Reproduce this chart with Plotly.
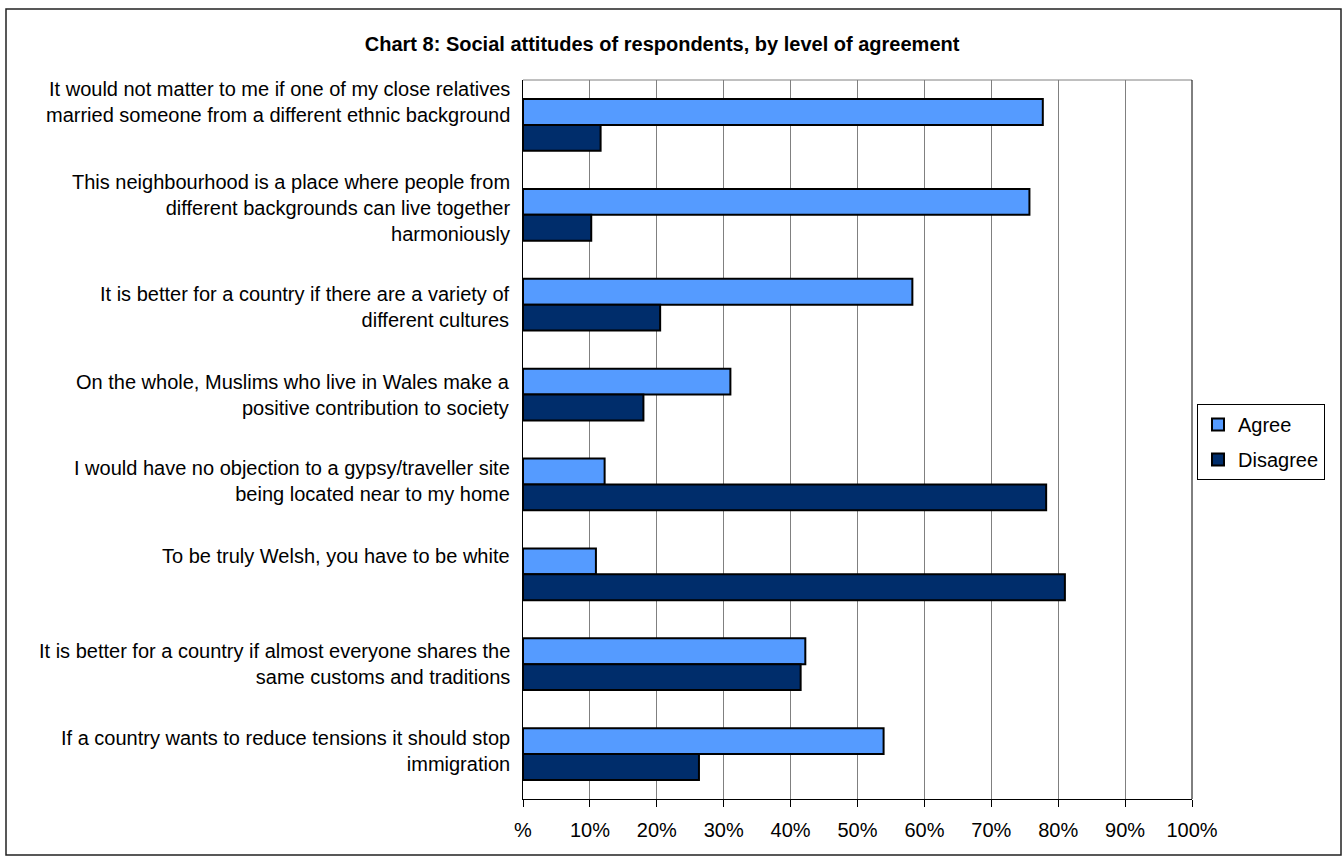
import plotly.graph_objects as go

# ---- data ----
CATEGORIES = [
    "It would not matter to me if one of my close relatives<br>married someone from a different ethnic background",
    "This neighbourhood is a place where people from<br>different backgrounds can live together<br>harmoniously",
    "It is better for a country if there are a variety of<br>different cultures",
    "On the whole, Muslims who live in Wales make a<br>positive contribution to society",
    "I would have no objection to a gypsy/traveller site<br>being located near to my home",
    "To be truly Welsh, you have to be white",
    "It is better for a country if almost everyone shares the<br>same customs and traditions",
    "If a country wants to reduce tensions it should stop<br>immigration",
]
AGREE = [77.7, 75.7, 58.2, 31.0, 12.2, 10.9, 42.2, 53.9]
DISAGREE = [11.6, 10.2, 20.5, 18.0, 78.2, 81.0, 41.5, 26.3]
TICK_VALUES = [0, 10, 20, 30, 40, 50, 60, 70, 80, 90, 100]
TICK_LABELS = ["%", "10%", "20%", "30%", "40%", "50%", "60%", "70%", "80%", "90%", "100%"]
SERIES_NAMES = ["Agree", "Disagree"]

# ---- style / layout ----
W, H = 1343, 857
L, R, T, B = 523, 151, 80, 58
FONT = "Liberation Sans, Arial, sans-serif"
COL_AGREE = "#559BFF"
COL_DISAGREE = "#002D6B"
LABEL_SHIFT = [23, 7, -2, 0, 3, 18, 0, 3]  # vertical nudges of category labels (px)

pw, ph = W - L - R, H - T - B


def px_x(px):
    return (px - L) / pw


def px_y(py):
    return (H - B - py) / ph


fig = go.Figure()
for name, vals, col in [(SERIES_NAMES[0], AGREE, COL_AGREE), (SERIES_NAMES[1], DISAGREE, COL_DISAGREE)]:
    fig.add_trace(go.Bar(
        y=CATEGORIES, x=vals, name=name, orientation="h",
        marker=dict(color=col, line=dict(color="#000000", width=2)),
        legendgroup=name, hoverinfo="x+name",
    ))

annotations = []
for cat, shift in zip(CATEGORIES, LABEL_SHIFT):
    annotations.append(dict(
        text=cat, xref="paper", x=0, xanchor="right", xshift=-11,
        yref="y", y=cat, yanchor="middle", yshift=shift,
        showarrow=False, align="right",
        font=dict(family=FONT, size=20, color="#000000"),
    ))

shapes = [
    # outer chart border
    dict(type="rect", xref="paper", yref="paper",
         x0=px_x(6), x1=px_x(1341), y0=px_y(855), y1=px_y(9),
         line=dict(color="#222222", width=1.5), layer="below"),
    # plot area top edge
    dict(type="line", xref="paper", yref="paper", x0=0, x1=1, y0=1, y1=1,
         line=dict(color="#808080", width=1)),
    # plot area right edge
    dict(type="line", xref="paper", yref="paper", x0=1, x1=1, y0=0, y1=1,
         line=dict(color="#000000", width=1)),
]

fig.update_layout(
    width=W, height=H, autosize=False,
    margin=dict(l=L, r=R, t=T, b=B, pad=0),
    paper_bgcolor="#FFFFFF", plot_bgcolor="#FFFFFF",
    font=dict(family=FONT, size=20, color="#000000"),
    title=dict(text="<b>Chart 8: Social attitudes of respondents, by level of agreement</b>",
               x=0.493, xanchor="center", xref="container",
               y=1 - 44 / H, yanchor="middle", yref="container",
               font=dict(family=FONT, size=20, color="#000000")),
    barmode="group", bargap=0.425, bargroupgap=0,
    xaxis=dict(range=[0, 100], tickvals=TICK_VALUES, ticktext=TICK_LABELS,
               showgrid=True, gridcolor="#808080", gridwidth=1, zeroline=False,
               showline=True, linecolor="#000000", linewidth=1,
               ticks="outside", ticklen=7, tickcolor="#000000", tickwidth=1,
               tickfont=dict(family=FONT, size=20, color="#000000"),
               ticklabelstandoff=6, fixedrange=True),
    yaxis=dict(type="category", categoryorder="array", categoryarray=CATEGORIES,
               autorange="reversed", showticklabels=False, showgrid=False,
               zeroline=False, showline=True, linecolor="#000000", linewidth=1,
               ticks="", fixedrange=True),
    legend=dict(x=px_x(1197), y=px_y(404), xanchor="left", yanchor="top",
                bgcolor="#FFFFFF", bordercolor="#000000", borderwidth=1,
                font=dict(family=FONT, size=20, color="#000000"),
                traceorder="grouped", tracegroupgap=6, itemwidth=30),
    showlegend=True,
    annotations=annotations,
    shapes=shapes,
)

fig.write_html(
    "out.html",
    config={"displayModeBar": False},
    post_script="document.body.style.margin='0';document.body.style.overflow='hidden';",
)
